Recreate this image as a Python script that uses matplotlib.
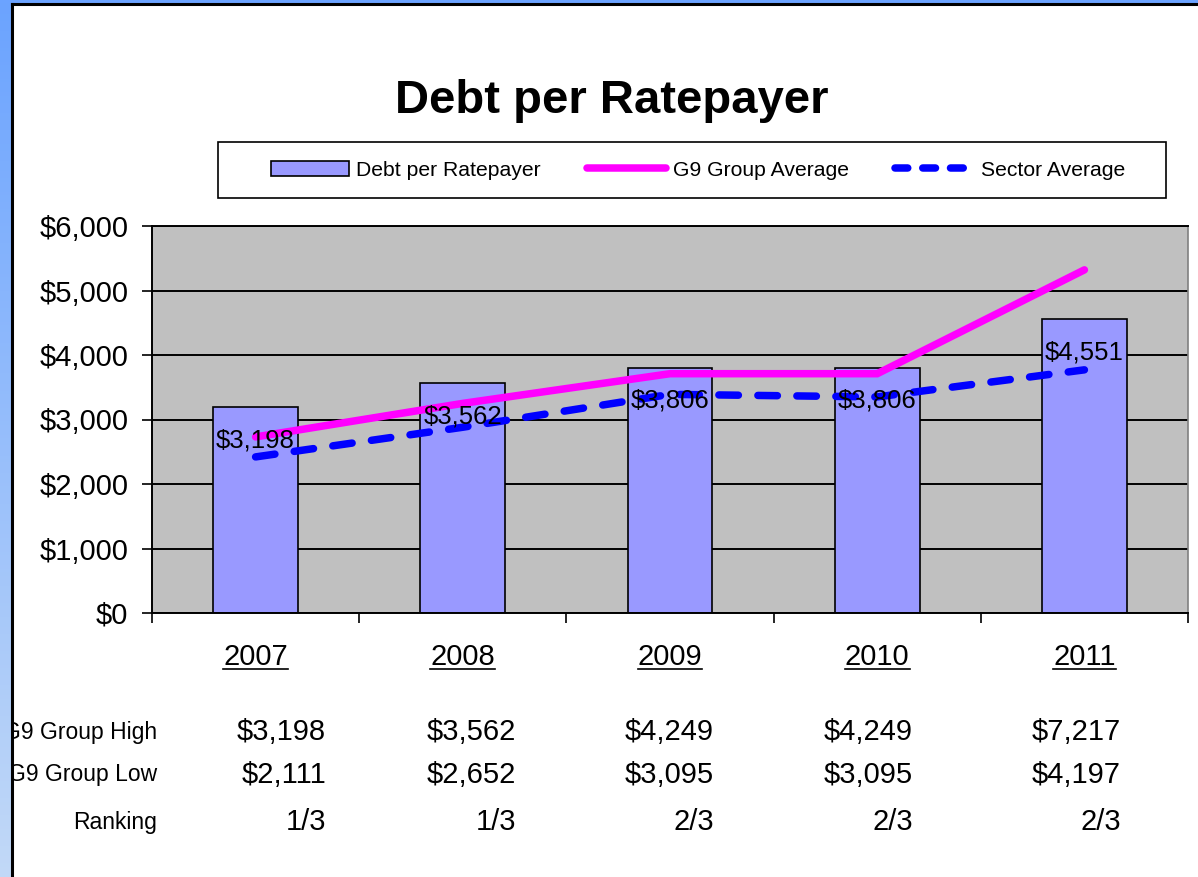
import matplotlib
matplotlib.use("Agg")
import matplotlib.pyplot as plt
from matplotlib.lines import Line2D
from matplotlib.patches import Patch, Rectangle
import numpy as np

# chart data
years = ["2007", "2008", "2009", "2010", "2011"]
debt_per_ratepayer = [3198, 3562, 3806, 3806, 4551]
g9_group_average = [2730, 3250, 3710, 3710, 5320]
sector_average = [2420, 2880, 3390, 3350, 3770]

row_labels = ["G9 Group High", "G9 Group Low", "Ranking"]
g9_high = ["$3,198", "$3,562", "$4,249", "$4,249", "$7,217"]
g9_low = ["$2,111", "$2,652", "$3,095", "$3,095", "$4,197"]
ranking = ["1/3", "1/3", "2/3", "2/3", "2/3"]

W, H = 1198, 877
plt.rcParams["font.family"] = ["Liberation Sans", "DejaVu Sans"]


def fx(px):
    return px / W


def fy(py):
    return 1 - py / H


fig = plt.figure(figsize=(W / 100, H / 100), dpi=100, facecolor="white")

# plot area
ax = fig.add_axes([fx(152), fy(613), fx(1188) - fx(152), fy(226) - fy(613)])
ax.set_facecolor("#c0c0c0")
x = np.arange(len(years))

ax.set_ylim(0, 6000)
ax.set_xlim(-0.5, len(years) - 0.5)
ax.set_yticks(np.arange(0, 6001, 1000))
ax.set_yticklabels([f"${v:,.0f}" for v in np.arange(0, 6001, 1000)], fontsize=21)
ax.yaxis.grid(True, color="black", lw=1.4)
ax.set_axisbelow(True)
ax.tick_params(axis="y", direction="out", length=7, width=1.2, pad=10)
ax.set_xticks([])
ax.set_xticks(np.arange(-0.5, len(years)), minor=True)
ax.tick_params(axis="x", which="minor", direction="out", length=7, width=1.2)
for s in ["left", "bottom", "top"]:
    ax.spines[s].set_color("black")
    ax.spines[s].set_linewidth(1.4)
ax.spines["right"].set_color("#808080")
ax.spines["right"].set_linewidth(1.2)

ax.bar(x, debt_per_ratepayer, width=0.41, color="#9999ff",
       edgecolor="black", lw=1.2, zorder=2)
ax.plot(x, g9_group_average, color="#ff00ff", lw=5.4, solid_capstyle="round",
        solid_joinstyle="miter", zorder=3)
ax.plot(x, sector_average, color="#0000ff", lw=5.4, dashes=(2.6, 2.6),
        dash_capstyle="round", zorder=3)
for xi, v in zip(x, debt_per_ratepayer):
    ax.annotate(f"${v:,.0f}", (xi, v), xytext=(0, -24), textcoords="offset points",
                ha="center", va="center", fontsize=18.5, zorder=4)

# category labels (underlined)
cat_texts = []
for xi, yr in zip(x, years):
    t = ax.text(xi, -(657 - 613) / (613 - 226), yr, transform=ax.get_xaxis_transform(),
                ha="center", va="center", fontsize=21)
    cat_texts.append(t)

# title
fig.text(fx(612), fy(101), "Debt per Ratepayer", ha="center", va="center",
         fontsize=34, fontweight="bold")

# legend
fig.add_artist(Rectangle((fx(218), fy(198)), fx(1166) - fx(218), fy(142) - fy(198),
                         transform=fig.transFigure, facecolor="white",
                         edgecolor="black", lw=1.2, zorder=2))
handles = [
    Patch(facecolor="#9999ff", edgecolor="black", lw=1.2),
    Line2D([], [], color="#ff00ff", lw=5.4, solid_capstyle="round"),
    Line2D([], [], color="#0000ff", lw=5.4, dashes=(1.7, 2.0), dash_capstyle="round"),
]
leg = fig.legend(handles, ["Debt per Ratepayer", "G9 Group Average", "Sector Average"],
                 loc="center", bbox_to_anchor=(fx(698), fy(170)), ncol=3,
                 frameon=False, fontsize=15.2, handlelength=3.7, handleheight=0.7,
                 handletextpad=0.35, columnspacing=2.2)
leg.set_zorder(3)

# table below the chart
col_right = [326, 516, 714, 913, 1121]
row_y = [732, 775, 822]
for ry, lab, vals in zip(row_y, row_labels, [g9_high, g9_low, ranking]):
    fig.text(fx(157), fy(ry), lab, ha="right", va="center", fontsize=16.5)
    for cx, v in zip(col_right, vals):
        fig.text(fx(cx), fy(ry), v, ha="right", va="center", fontsize=21)

# slide background strips + border
grad = np.linspace(0, 1, 256)[:, None]
top_c = np.array([0.42, 0.64, 1.0])
bot_c = np.array([0.76, 0.85, 0.97])
img = top_c[None, None, :] * (1 - grad[:, :, None]) + bot_c[None, None, :] * grad[:, :, None]
sax = fig.add_axes([0, 0, fx(11), 1], zorder=10)
sax.imshow(img, aspect="auto", extent=[0, 1, 0, 1])
sax.axis("off")
tax = fig.add_axes([0, fy(3), 1, 1 - fy(3)], zorder=10)
tax.set_facecolor((0.42, 0.64, 1.0))
tax.set_xticks([]); tax.set_yticks([])
for s in tax.spines.values():
    s.set_visible(False)
fig.add_artist(Line2D([fx(12), fx(12)], [0, fy(4)], transform=fig.transFigure,
                      color="black", lw=2.2, zorder=11))
fig.add_artist(Line2D([fx(12), 1], [fy(4), fy(4)], transform=fig.transFigure,
                      color="black", lw=2.2, zorder=11))

# underline the category labels
fig.canvas.draw()
r = fig.canvas.get_renderer()
for t in cat_texts:
    bb = t.get_window_extent(r)
    y0 = bb.y0 + 2
    fig.add_artist(Line2D([bb.x0 / W, bb.x1 / W], [y0 / H, y0 / H],
                          transform=fig.transFigure, color="black", lw=1.2))

fig.savefig("out.png", dpi=100)
